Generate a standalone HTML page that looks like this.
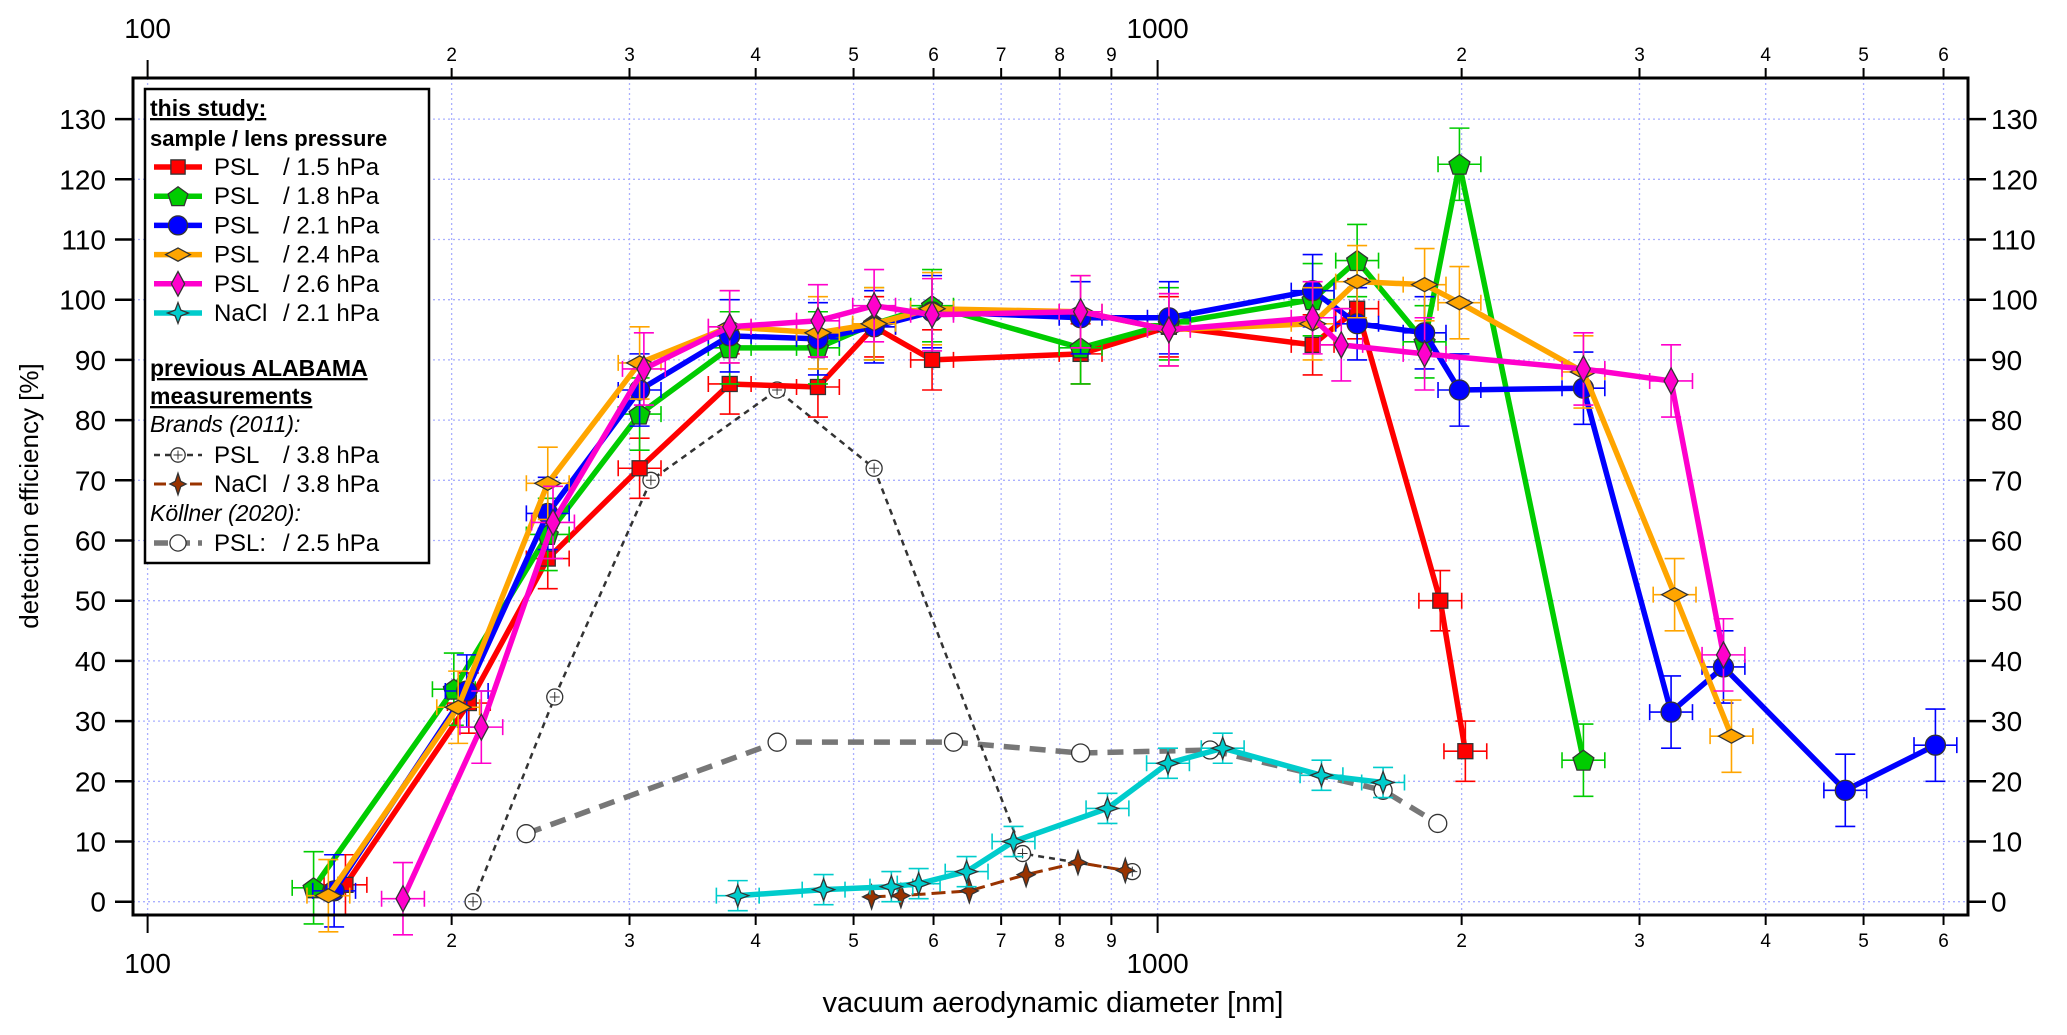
<!DOCTYPE html>
<html><head><meta charset="utf-8"><style>
html,body{margin:0;padding:0;background:#fff}
svg{display:block;font-family:"Liberation Sans",sans-serif}
</style></head><body>
<svg id="chart" width="2067" height="1035" viewBox="0 0 2067 1035" xmlns="http://www.w3.org/2000/svg">
<g id="grid"></g>
<g id="series"></g>
<rect x="133" y="78" width="1835" height="837" fill="none" stroke="#000" stroke-width="3"/>
<g id="axes"></g>
<text x="1053" y="1012" font-size="29" text-anchor="middle">vacuum aerodynamic diameter [nm]</text>
<text transform="translate(38,496) rotate(-90)" font-size="26" text-anchor="middle">detection efficiency [%]</text>
<g id="legend"></g>
</svg>
<script>
const psl15X=[157,208,249,307,377,461,524,598,839,1026,1424,1576,1905,2017];
const psl15Y=[2.8,33,57,72,86,85.5,95.5,90,91,95.5,92.5,98.5,50,25];
const psl18X=[146,201,249,307,377,461,524,598,839,1026,1424,1576,1838,1990,2640];
const psl18Y=[2.3,35.3,61,81,92,92,96,99,92,96,100,106.5,93,122.5,23.5];
const psl21X=[153,207,249,307,377,461,524,598,839,1026,1424,1576,1838,1990,2640,3224,3633,4796,5890];
const psl21Y=[1.8,35,64.5,85,94,93.5,95.5,98,97,97,101.5,96,94.5,85,85.3,31.5,39,18.5,26];
const psl24X=[151,203,249,307,377,461,524,598,839,1026,1424,1576,1838,1990,2640,3250,3700];
const psl24Y=[1,32.3,69.5,89.5,95.5,94.5,96,98.5,98,95,96,103,102.5,99.5,88,51,27.5];
const psl26X=[179,214,252,310,377,461,524,598,839,1026,1424,1520,1838,2640,3224,3633];
const psl26Y=[0.5,29,63,88.5,95.5,96.5,99,97.5,98,95,97,92.5,91,88.5,86.5,41];
const nacl21X=[384,467,545,580,647,720,892,1024,1160,1453,1672];
const nacl21Y=[1,2,2.5,3,5,10,15.5,23,25.5,21,19.8];
const nacl38X=[521,557,651,741,834,929];
const nacl38Y=[0.8,1,1.8,4.5,6.5,5.2];
const brandsX=[210,253,315,420,524,735,944];
const brandsY=[0,34,70,85,72,8,5];
const kollnerX=[237,420,628,839,1127,1672,1894];
const kollnerY=[11.3,26.5,26.5,24.7,25.2,18.5,13];
const yTicks=[0,10,20,30,40,50,60,70,80,90,100,110,120,130];
const xMinorLabels=["2","3","4","5","6","7","8","9"];

const NS="http://www.w3.org/2000/svg";
function X(d){return 147.6+1010*Math.log10(d/100);}
function Y(v){return 901.7-6.02*v;}
function mk(tag,attrs,parent){const e=document.createElementNS(NS,tag);for(const k in attrs)e.setAttribute(k,attrs[k]);parent.appendChild(e);return e;}
const grid=document.getElementById('grid'),axes=document.getElementById('axes'),ser=document.getElementById('series'),leg=document.getElementById('legend');

yTicks.forEach(v=>{
  const y=Y(v);
  const g=mk('line',{x1:133,x2:1968,y1:y,y2:y,stroke:'#aab0ff','stroke-width':1.3,'stroke-dasharray':'2,3'},grid);
  
  
  const t1=mk('line',{x1:115,x2:133,y1:y,y2:y,stroke:'#000','stroke-width':2.5},axes);
  
  
  const t2=mk('line',{x1:1968,x2:1986,y1:y,y2:y,stroke:'#000','stroke-width':2.5},axes);
  
  
  const l1=mk('text',{x:106,y:y+10,'font-size':28,'text-anchor':'end'},axes);l1.textContent=v;
  
  
  const l2=mk('text',{x:1991,y:y+10,'font-size':28},axes);l2.textContent=v;
  
  
});
[100,1000].forEach(base=>{
  for(let m=1;m<=9;m++){
    const d=base*m; if(d>6340) continue;
    const x=X(d);
    const gl=mk('line',{x1:x,x2:x,y1:78,y2:915,stroke:'#aab0ff','stroke-width':1.3,'stroke-dasharray':'2,3'},grid);
    
    
    const len=m===1?18:10;
    const tb=mk('line',{x1:x,x2:x,y1:915,y2:915+len,stroke:'#000','stroke-width':2},axes);
    
    
    const tt=mk('line',{x1:x,x2:x,y1:78,y2:78-len,stroke:'#000','stroke-width':2},axes);
    
    
    if(m===1){
      const lb=mk('text',{x:x,y:973,'font-size':28,'text-anchor':'middle'},axes);lb.textContent=base;
      
      
      const lt=mk('text',{x:x,y:38,'font-size':28,'text-anchor':'middle'},axes);lt.textContent=base;
      
      
    } else {
      const lb=mk('text',{x:x,y:947,'font-size':19,'text-anchor':'middle'},axes);lb.textContent=xMinorLabels[m-2];
      
      
      const lt=mk('text',{x:x,y:61,'font-size':19,'text-anchor':'middle'},axes);lt.textContent=xMinorLabels[m-2];
      
      
    }
  }
});

function marker(shape,x,y,fill,parent,s){
  s=s||1;let e;
  if(shape==='square') e=mk('rect',{x:x-7.5*s,y:y-7.5*s,width:15*s,height:15*s},parent);
  else if(shape==='circle') e=mk('circle',{cx:x,cy:y,r:10*s},parent);
  else if(shape==='pent'){let p=[];for(let i=0;i<5;i++){const a=-Math.PI/2+i*2*Math.PI/5;p.push((x+11*s*Math.cos(a))+','+(y+1+11*s*Math.sin(a)));}e=mk('polygon',{points:p.join(' ')},parent);}
  else if(shape==='diamond') e=mk('polygon',{points:`${x-13*s},${y} ${x},${y-7*s} ${x+13*s},${y} ${x},${y+7*s}`},parent);
  else if(shape==='tdiamond') e=mk('polygon',{points:`${x-7*s},${y} ${x},${y-13*s} ${x+7*s},${y} ${x},${y+13*s}`},parent);
  else if(shape==='star') e=mk('polygon',{points:`${x},${y-11*s} ${x+3*s},${y-3*s} ${x+11*s},${y} ${x+3*s},${y+3*s} ${x},${y+11*s} ${x-3*s},${y+3*s} ${x-11*s},${y} ${x-3*s},${y-3*s}`},parent);
  else if(shape==='ocircle'){e=mk('circle',{cx:x,cy:y,r:9*s},parent);}
  else if(shape==='pcircle'){e=mk('circle',{cx:x,cy:y,r:8*s},parent);mk('path',{d:`M${x-5*s},${y}H${x+5*s}M${x},${y-5*s}V${y+5*s}`,stroke:'#333','stroke-width':1},parent);}
  else if(shape==='bstar') e=mk('polygon',{points:`${x},${y-12*s} ${x+3*s},${y-3*s} ${x+9*s},${y} ${x+3*s},${y+3*s} ${x},${y+12*s} ${x-3*s},${y+3*s} ${x-9*s},${y} ${x-3*s},${y-3*s}`},parent);
  e.setAttribute('fill',fill);e.setAttribute('stroke','#333');e.setAttribute('stroke-width',1.3);
  return e;
}

const defs=[
 {name:'psl-1-5',xs:psl15X,ys:psl15Y,c:'#ff0000',m:'square',w:5.5,err:5},
 {name:'psl-1-8',xs:psl18X,ys:psl18Y,c:'#00cc00',m:'pent',w:5.5,err:6},
 {name:'psl-2-1',xs:psl21X,ys:psl21Y,c:'#0000ff',m:'circle',w:5.5,err:6},
 {name:'psl-2-4',xs:psl24X,ys:psl24Y,c:'#ffa500',m:'diamond',w:5.5,err:6},
 {name:'psl-2-6',xs:psl26X,ys:psl26Y,c:'#ff00cc',m:'tdiamond',w:5.5,err:6},
 {name:'nacl-2-1',xs:nacl21X,ys:nacl21Y,c:'#00cccc',m:'star',w:5.5,err:2.5},
];
const bg=mk('g',{},ser);


const kp=mk('polyline',{points:kollnerX.map((d,i)=>X(d)+','+Y(kollnerY[i])).join(' '),fill:'none',stroke:'#777','stroke-width':5.5,'stroke-dasharray':'16,10'},bg);


kollnerX.forEach((d,i)=>{const e=marker('ocircle',X(d),Y(kollnerY[i]),'#fff',bg);
  
  });
const bp=mk('polyline',{points:brandsX.map((d,i)=>X(d)+','+Y(brandsY[i])).join(' '),fill:'none',stroke:'#333','stroke-width':2.5,'stroke-dasharray':'6,5'},bg);


brandsX.forEach((d,i)=>{const e=marker('pcircle',X(d),Y(brandsY[i]),'#fff',bg);
  
  });
const np=mk('polyline',{points:nacl38X.map((d,i)=>X(d)+','+Y(nacl38Y[i])).join(' '),fill:'none',stroke:'#993300','stroke-width':3,'stroke-dasharray':'14,6'},bg);


nacl38X.forEach((d,i)=>{const e=marker('bstar',X(d),Y(nacl38Y[i]),'#993300',bg);
  
  });

defs.forEach(s=>{
  const g=mk('g',{},ser);
  
  
  s.xs.forEach((d,i)=>{
    const x=X(d),y=Y(s.ys[i]),e=s.err*6.02,h=X(d*1.05)-x;
    const eb=mk('path',{d:`M${x},${y-e}V${y+e}M${x-10},${y-e}H${x+10}M${x-10},${y+e}H${x+10}M${x-h},${y}H${x+h}M${x-h},${y-8}V${y+8}M${x+h},${y-8}V${y+8}`,stroke:s.c,'stroke-width':1.6,fill:'none'},g);
    
    
  });
  const pl=mk('polyline',{points:s.xs.map((d,i)=>X(d)+','+Y(s.ys[i])).join(' '),fill:'none',stroke:s.c,'stroke-width':s.w,'stroke-linejoin':'round'},g);
  
  
  s.xs.forEach((d,i)=>{const e=marker(s.m,X(d),Y(s.ys[i]),s.c,g);
    
    });
});

// legend
const lb=mk('rect',{x:145,y:89,width:284,height:474,fill:'#fff',stroke:'#000','stroke-width':2.5},leg);


function ltext(txt,y,opts){const t=mk('text',Object.assign({x:150,y:y,'font-size':23},opts||{}),leg);t.textContent=txt;return t;}
let t;
t=ltext('this study:',116,{'font-weight':'bold','text-decoration':'underline'});


t=ltext('sample / lens pressure',146,{'font-weight':'bold','font-size':22});


const legNames=['PSL','PSL','PSL','PSL','PSL','NaCl'];
const legPress=['/ 1.5 hPa','/ 1.8 hPa','/ 2.1 hPa','/ 2.4 hPa','/ 2.6 hPa','/ 2.1 hPa'];
function legRow(y,nm,pr){
  const a=mk('text',{x:214,y:y+8,'font-size':24},leg);a.textContent=nm;
  
  
  const b=mk('text',{x:283,y:y+8,'font-size':24},leg);b.textContent=pr;
  
  
}
defs.forEach((s,i)=>{
  const y=167+i*29.2;
  const ln=mk('line',{x1:154,x2:202,y1:y,y2:y,stroke:s.c,'stroke-width':5.5},leg);
  
  
  marker(s.m,178,y,s.c,leg,0.95);
  legRow(y,legNames[i],legPress[i]);
});
t=ltext('previous ALABAMA',376,{'font-weight':'bold','text-decoration':'underline'});


t=ltext('measurements',404,{'font-weight':'bold','text-decoration':'underline'});


t=ltext('Brands (2011):',432,{'font-style':'italic'});


let y=455;
let sw=mk('line',{x1:154,x2:202,y1:y,y2:y,stroke:'#333','stroke-width':2.5,'stroke-dasharray':'6,5'},leg);


marker('pcircle',178,y,'#fff',leg,0.9);
legRow(y,'PSL','/ 3.8 hPa');
y=484;
sw=mk('line',{x1:154,x2:202,y1:y,y2:y,stroke:'#993300','stroke-width':3,'stroke-dasharray':'12,6'},leg);


marker('bstar',178,y,'#993300',leg,0.9);
legRow(y,'NaCl','/ 3.8 hPa');
t=ltext('Köllner (2020):',521,{'font-style':'italic'});


y=543;
sw=mk('line',{x1:154,x2:202,y1:y,y2:y,stroke:'#777','stroke-width':5.5,'stroke-dasharray':'14,8'},leg);


marker('ocircle',178,y,'#fff',leg,0.9);
legRow(y,'PSL:','/ 2.5 hPa');
</script>
</body></html>
